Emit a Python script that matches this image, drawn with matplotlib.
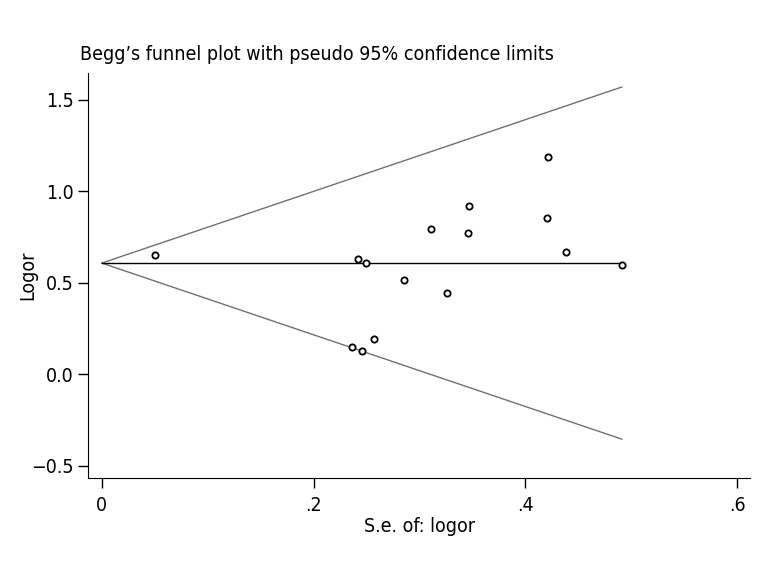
import numpy as np
import matplotlib
matplotlib.use("Agg")
import matplotlib.pyplot as plt

plt.rcParams['font.family'] = ['DejaVu Sans']
plt.rcParams['font.stretch'] = 'condensed'

# study data
se = [0.050, 0.242, 0.249, 0.285, 0.311, 0.326, 0.346, 0.347, 0.420, 0.421,
      0.438, 0.236, 0.246, 0.257, 0.491]
logor = [0.649, 0.630, 0.608, 0.515, 0.791, 0.443, 0.772, 0.920, 0.854, 1.185,
         0.670, 0.151, 0.127, 0.190, 0.596]
theta = 0.607
se_max = 0.491
xticks = [0, 0.2, 0.4, 0.6]
xtick_labels = ["0", ".2", ".4", ".6"]
yticks = [-0.5, 0.0, 0.5, 1.0, 1.5]

fig = plt.figure(figsize=(7.68, 5.76), dpi=100)
ax = fig.add_axes([0.1146, 0.170, 0.862, 0.703])

s = np.array([0, se_max])
ax.plot(s, theta + 1.96 * s, color="#707070", lw=1.0)
ax.plot(s, theta - 1.96 * s, color="#707070", lw=1.0)
ax.plot(s, [theta, theta], color="black", lw=1.0)
ax.plot(se, logor, linestyle="none", marker="o", markersize=4.5,
        mfc="white", mec="black", mew=1.3)

ax.set_xlim(-0.013, 0.612)
ax.set_ylim(-0.568, 1.645)
ax.set_xticks(xticks)
ax.set_xticklabels(xtick_labels)
ax.set_yticks(yticks)
ax.set_yticklabels([f"{v:.1f}".replace("-", "\u2212") for v in yticks])
for side in ["top", "right"]:
    ax.spines[side].set_visible(False)
ax.tick_params(direction="out", length=7, width=1, labelsize=14, pad=3)
ax.tick_params(axis="x", pad=6)
ax.set_xlabel("S.e. of: logor", fontsize=14, labelpad=1)
ax.set_ylabel("Logor", fontsize=14)
ax.yaxis.set_label_coords(-0.076, 0.5)

fig.text(0.104, 0.895, "Begg\u2019s funnel plot with pseudo 95% confidence limits",
         fontsize=14, ha="left", va="baseline")

fig.savefig("out.png", dpi=100)
